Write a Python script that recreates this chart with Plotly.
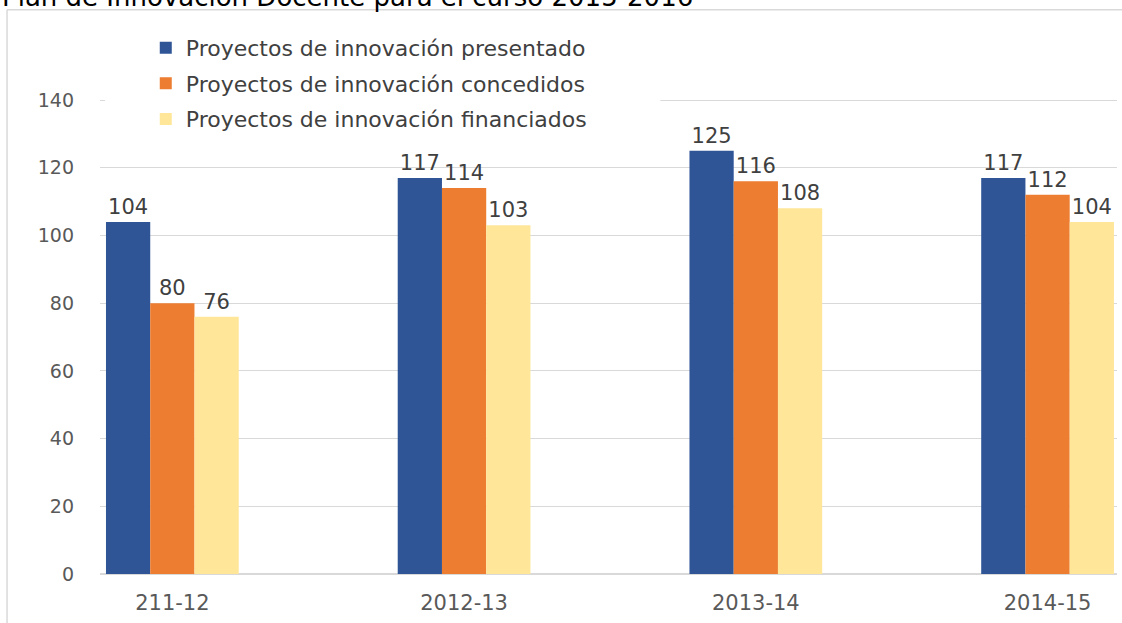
import plotly.graph_objects as go

# data
cursos = ["211-12", "2012-13", "2013-14", "2014-15"]
presentados = [104, 117, 125, 117]
concedidos = [80, 114, 116, 112]
financiados = [76, 103, 108, 104]

series = [
    ("Proyectos de innovación presentado", presentados, "#2F5597"),
    ("Proyectos de innovación concedidos", concedidos, "#ED7D31"),
    ("Proyectos de innovación financiados", financiados, "#FFE699"),
]

FONT = "DejaVu Sans"

fig = go.Figure()
for i, (name, vals, col) in enumerate(series):
    fig.add_trace(go.Bar(
        x=cursos, y=vals, name=name,
        marker=dict(color=col, line=dict(width=0)),
        text=vals, textposition="outside", constraintext="none",
        textfont=dict(family=FONT, size=21, color="#404040"),
        cliponaxis=False, legendgroup=f"g{i}",
    ))

# plot area: x 100..1117 px, y 97..574 px (140 gridline at y=100)
fig.update_layout(
    width=1122, height=623,
    margin=dict(l=100, r=5, t=97, b=49),
    paper_bgcolor="white", plot_bgcolor="white",
    barmode="group", bargap=0.545, bargroupgap=0,
    showlegend=True,
    legend=dict(
        x=0.045, y=1.147, xanchor="left", yanchor="top",
        bgcolor="white", tracegroupgap=4,
        font=dict(family=FONT, size=22, color="#404040"),
    ),
    xaxis=dict(
        range=[-0.248, 3.238], showgrid=False, zeroline=False,
        showline=False, ticks="", ticklabelstandoff=14,
        tickfont=dict(family=FONT, size=21, color="#595959"),
    ),
    yaxis=dict(
        range=[0, 140.89], dtick=20, showgrid=True, gridcolor="#D9D9D9",
        gridwidth=1, zeroline=True, zerolinecolor="#D9D9D9", zerolinewidth=1.5,
        showline=False, ticks="", ticklabelstandoff=25,
        tickfont=dict(family=FONT, size=19, color="#595959"),
    ),
)

# the legend box in the original hides most of the 140 gridline
fig.add_shape(type="rect", xref="paper", yref="paper", layer="above",
              x0=0.005, x1=0.551, y0=0.98, y1=1.01,
              fillcolor="white", line=dict(width=0))

# outer chart border (cropped screenshot: only left and top edges visible)
fig.add_shape(type="line", xref="paper", yref="paper",
              x0=-0.0914, x1=1.01, y0=1.183, y1=1.183,
              line=dict(color="#D9D9D9", width=1.5))
fig.add_shape(type="line", xref="paper", yref="paper",
              x0=-0.0914, x1=-0.0914, y0=1.183, y1=-0.12,
              line=dict(color="#D9D9D9", width=1.5))

# title, cut off by the top edge of the picture
fig.add_annotation(
    text="Plan de Innovación Docente para el curso 2015-2016",
    xref="paper", yref="paper", x=-0.098, y=1.174,
    xanchor="left", yanchor="bottom", showarrow=False,
    font=dict(family=FONT, size=26, color="#000000"),
)

# drop the default page margin so the chart sits at the window corner
fig.write_html("out.html", config={"displayModeBar": False},
               post_script="document.body.style.margin='0';")
